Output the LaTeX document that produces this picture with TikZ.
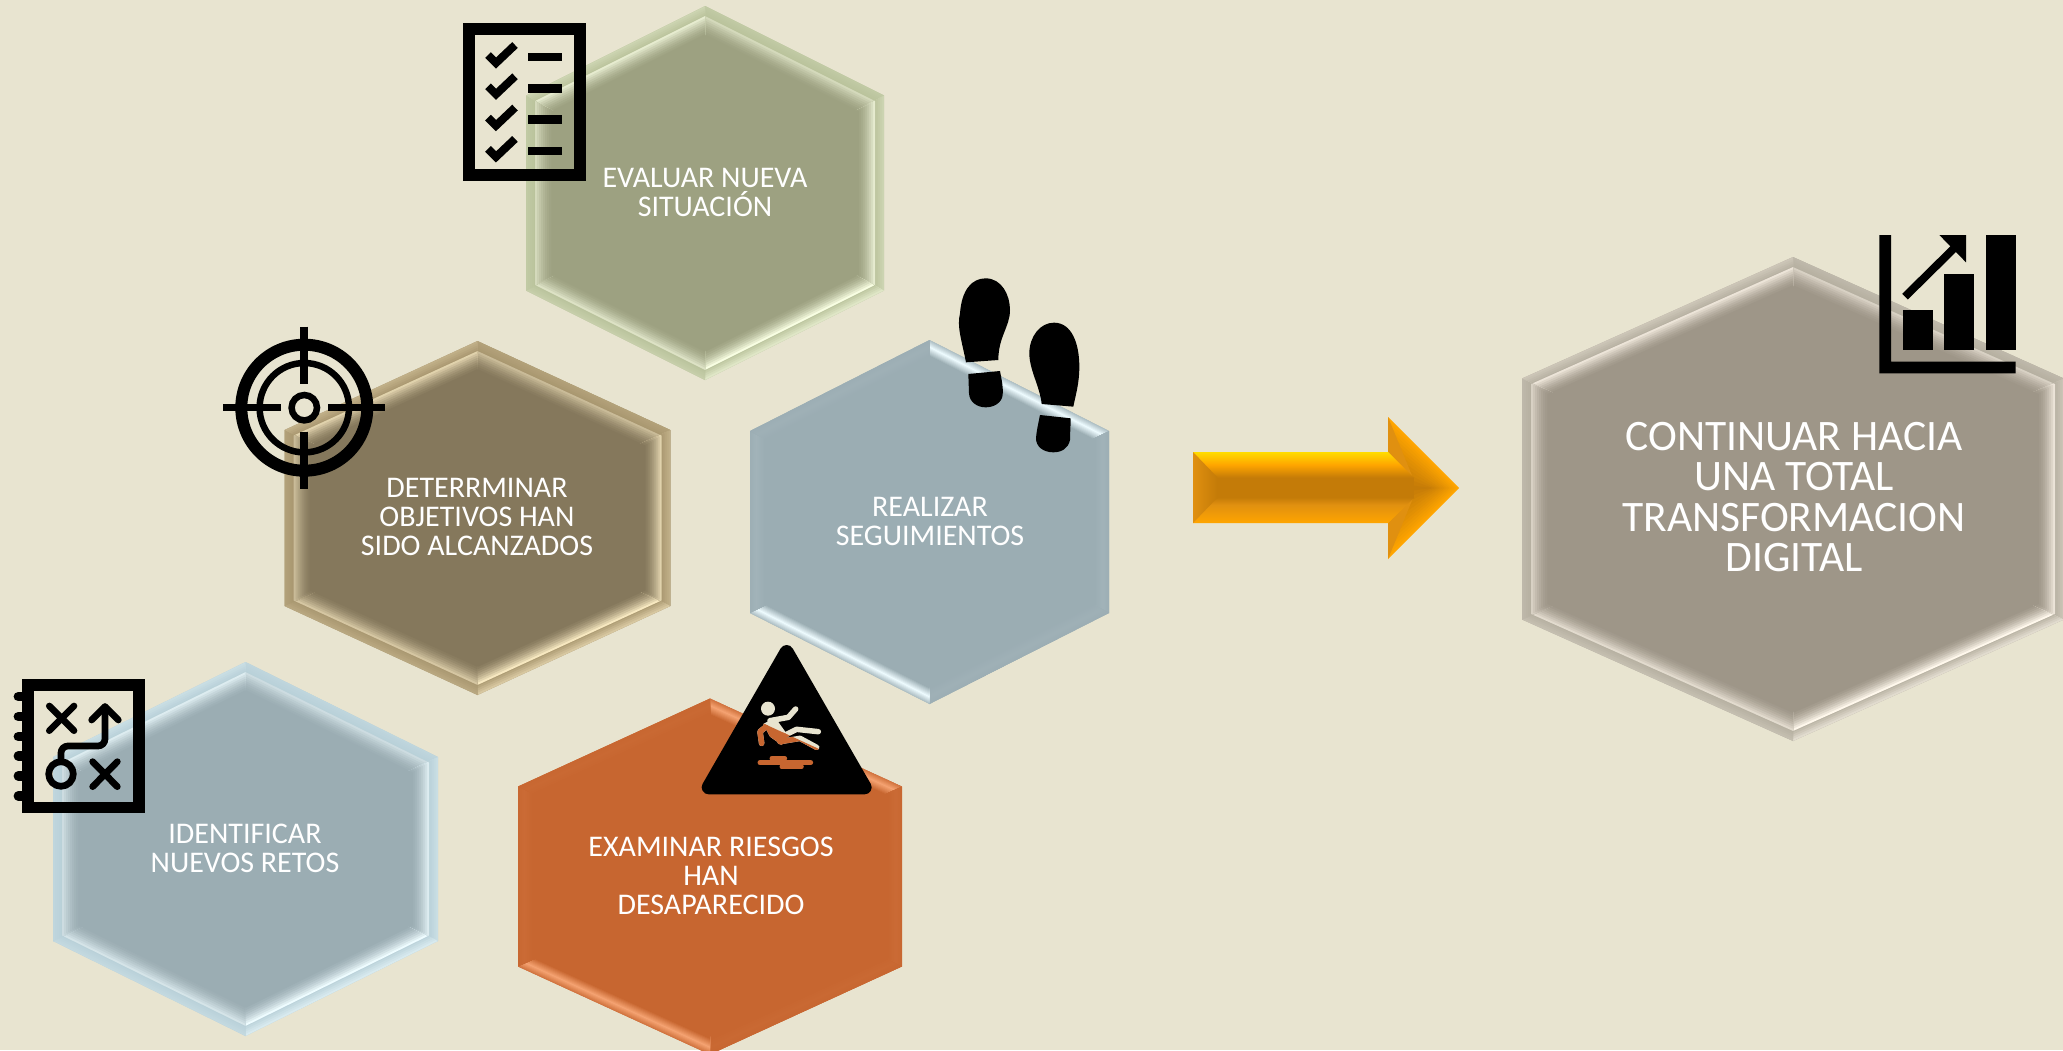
\documentclass[tikz,border=0pt]{standalone}
\usepackage{fontspec}
\setmainfont{Carlito}
\usetikzlibrary{arrows}

\definecolor{paper}{HTML}{E8E4D0}
\definecolor{oliveface}{HTML}{9DA181}
\definecolor{oliveband}{HTML}{B9C29B}
\definecolor{oliveglow}{HTML}{F8FEE2}
\definecolor{brownface}{HTML}{85785C}
\definecolor{brownband}{HTML}{A8966F}
\definecolor{brownglow}{HTML}{F7E8C0}
\definecolor{blueface}{HTML}{9BADB3}
\definecolor{blueband}{HTML}{B8D0D8}
\definecolor{blueglow}{HTML}{EEFCFF}
\definecolor{rustface}{HTML}{C76630}
\definecolor{rustglow}{HTML}{F5A372}
\definecolor{greyface}{HTML}{9E9688}
\definecolor{greyband}{HTML}{B5AFA0}
\definecolor{greyglow}{HTML}{FFF8EC}
\definecolor{amberdark}{HTML}{C47B08}
\definecolor{amber}{HTML}{FFA500}
\definecolor{amberside}{HTML}{E09010}
\definecolor{amberlight}{HTML}{FFDC00}

\pgfdeclareverticalshading{shaftshade}{100bp}{color(0bp)=(amber); color(25bp)=(amber); color(38bp)=(amberside); color(43bp)=(amberdark); color(57bp)=(amberdark); color(66bp)=(amber); color(75bp)=(amberlight); color(100bp)=(amberlight)}

\newcommand{\hexpts}[1]{(\hx,{\hy-\hh+1.118*#1}) -- ({\hx+\hw-#1},{\hy-\hs+.618*#1}) -- ({\hx+\hw-#1},{\hy+\hs-.618*#1}) -- (\hx,{\hy+\hh-1.118*#1}) -- ({\hx-\hw+#1},{\hy+\hs-.618*#1}) -- ({\hx-\hw+#1},{\hy-\hs+.618*#1}) -- cycle}

\newcommand{\hexcorners}[5]{
    \def\hx{#1}\def\hy{#2}\def\hw{#3}\def\hh{#4}\def\hs{#5}
    \coordinate (v1) at (\hx,{\hy-\hh});
    \coordinate (v2) at ({\hx+\hw},{\hy-\hs});
    \coordinate (v3) at ({\hx+\hw},{\hy+\hs});
    \coordinate (v4) at (\hx,{\hy+\hh});
    \coordinate (v5) at ({\hx-\hw},{\hy+\hs});
    \coordinate (v6) at ({\hx-\hw},{\hy-\hs});
}

% framed hexagon: x, y, half width, half height, shoulder, face, band, glow
\newcommand{\hexframed}[8]{
    \hexcorners{#1}{#2}{#3}{#4}{#5}
    \fill[#7] \hexpts{0};
    \foreach \a/\b/\k in {1/2/.6,2/3/.8,3/4/1,4/5/.7,5/6/.6,6/1/.8} {
        \begin{scope}
            \clip (\hx,\hy) -- (v\a) -- (v\b) -- cycle;
            \foreach \t in {0,2,...,8} {
                \pgfmathsetmacro\p{60*\k*\k*\k*(1-\t/9)}
                \fill[#8!\p!#7] \hexpts{\t};
            }
            \foreach \t in {9,11,...,25} {
                \pgfmathsetmacro\p{100*\k*((26-\t)/17)^1.6}
                \fill[#8!\p!#6] \hexpts{\t};
            }
        \end{scope}
    }
    \fill[#6] \hexpts{26};
}

% flat hexagon with a raised stripe: x, y, half width, half height, shoulder, face, glow
\newcommand{\hexflat}[7]{
    \hexcorners{#1}{#2}{#3}{#4}{#5}
    \fill[#6] \hexpts{0};
    \foreach \a/\b/\k in {1/2/1,2/3/.08,3/4/.05,4/5/1,5/6/.08,6/1/.05} {
        \begin{scope}
            \clip (\hx,\hy) -- (v\a) -- (v\b) -- cycle;
            \foreach \t in {0,1,...,15} {
                \pgfmathsetmacro\p{100*\k*max(0,1-abs(\t-6)/8)}
                \fill[#7!\p!#6] \hexpts{\t};
            }
        \end{scope}
    }
    \fill[#6] \hexpts{16};
}

\newcommand{\slipfigure}[1]{
    \begin{scope}[shift={(680,630)},x=.3333pt,y=-.3333pt,line cap=round,line join=round,#1]
        \fill (264,236) circle (7pt);
        \fill (250,282) -- (285,262) -- (325,318) -- (305,345) -- (270,320) -- cycle;
        \draw[line width=5.5pt] (270,272) -- (325,262) -- (347,237);
        \draw[line width=5.5pt] (258,290) -- (240,305) -- (245,340);
        \draw[line width=5.5pt] (310,318) -- (350,298) -- (415,305);
        \draw[line width=5.5pt] (300,335) -- (360,325) -- (410,352);
    \end{scope}
}

\tikzset{
    hextext/.style={text=white,align=center,font=\fontsize{30}{29}\selectfont},
    bigtext/.style={text=white,align=center,font=\fontsize{43.5}{40.5}\selectfont},
    inkline/.style={draw=black,line width=#1},
}

\begin{document}
\begin{tikzpicture}[x=1pt,y=-1pt]
    \useasboundingbox (0,0) rectangle (2063,1050);
    \fill[paper] (0,0) rectangle (2063,1050);

    \hexframed{705}{193}{179}{187}{97.5}{oliveface}{oliveband}{oliveglow}
    \hexframed{477.5}{518}{193}{177}{88}{brownface}{brownband}{brownglow}
    \hexframed{245.5}{849}{192.5}{187}{92}{blueface}{blueband}{blueglow}
    \hexframed{1793}{499}{271}{242}{120.5}{greyface}{greyband}{greyglow}
    \hexflat{929.5}{522}{179.5}{182}{91}{blueface}{blueglow}
    \hexflat{710}{876.5}{192}{178}{90}{rustface}{rustglow}

    \node[hextext] (evaluar) at (705,192) {EVALUAR NUEVA\\SITUACIÓN};
    \node[hextext] (objetivos) at (477,517) {DETERRMINAR\\OBJETIVOS HAN\\SIDO ALCANZADOS};
    \node[hextext] (seguimientos) at (930,521) {REALIZAR\\SEGUIMIENTOS};
    \node[hextext] (riesgos) at (711,876) {EXAMINAR RIESGOS\\HAN\\DESAPARECIDO};
    \node[hextext] (retos) at (245,848) {IDENTIFICAR\\NUEVOS RETOS};
    \node[bigtext] (digital) at (1794,497) {CONTINUAR HACIA\\UNA TOTAL\\TRANSFORMACION\\DIGITAL};

    % block arrow
    \foreach \t in {0,1,...,12} {
        \pgfmathsetmacro\p{100*(1-\t/12)}
        \fill[amber!\p!amberdark] ({1388+2*\t},{417+5.7*\t}) -- ({1459-2.4*\t},488) -- ({1388+2*\t},{559-5.7*\t}) -- cycle;
    }
    \fill[amberside] (1388,417) -- (1413,478) -- (1388,452) -- cycle;
    \fill[amberside] (1388,559) -- (1413,498) -- (1388,523) -- cycle;
    \shade[shading=shaftshade] (1193,452) -- (1388,452) -- (1414,478) -- (1414,498) -- (1388,523) -- (1193,523) -- cycle;
    \shade[left color=amberside,right color=amberdark] (1193,452) -- (1217,477) -- (1217,498) -- (1193,523) -- cycle;

    % checklist
    \draw[inkline=12pt] (469,29) rectangle (580,175);
    \foreach \i in {0,1,2,3} {
        \draw[inkline=8pt] (488,{55+31.3*\i}) -- (496,{63+31.3*\i}) -- (515,{45+31.3*\i});
        \draw[inkline=8.5pt] (528,{57+31.3*\i}) -- (562,{57+31.3*\i});
    }

    % target
    \draw[inkline=12pt] (304.3,407.7) circle (63pt);
    \draw[inkline=6.5pt] (304.3,407.7) circle (44.7pt);
    \draw[inkline=6.5pt] (304.3,407.7) circle (12.7pt);
    \draw[inkline=6.5pt] (223.3,407.7) -- (280.7,407.7);
    \draw[inkline=6.5pt] (328.3,407.7) -- (385.3,407.7);
    \draw[inkline=8pt] (304.3,326.7) -- (304.3,384);
    \draw[inkline=8pt] (304.3,431.7) -- (304.3,489);

    % steps
    \begin{scope}[shift={(940,250)},x=.3333pt,y=-.3333pt]
        \fill (78,337) .. controls (65,270) and (50,230) .. (60,190) .. controls (65,120) and (95,85) .. (137,85) .. controls (185,85) and (210,135) .. (210,180) .. controls (210,230) and (175,260) .. (175,330) -- cycle;
        \fill (85,372) -- (180,363) .. controls (185,390) and (190,410) .. (188,435) .. controls (185,460) and (160,472) .. (137,472) .. controls (110,472) and (88,455) .. (87,430) -- cycle;
        \fill (305,462) .. controls (300,410) and (268,360) .. (268,310) .. controls (268,260) and (300,218) .. (342,218) .. controls (395,218) and (418,280) .. (418,350) .. controls (418,400) and (408,430) .. (400,470) -- cycle;
        \fill (300,495) -- (392,505) .. controls (392,530) and (390,550) .. (390,570) .. controls (385,595) and (365,607) .. (340,607) .. controls (310,607) and (288,590) .. (288,565) .. controls (290,540) and (295,520) .. (300,495) -- cycle;
    \end{scope}

    % warning sign
    \begin{scope}[shift={(680,630)},x=.3333pt,y=-.3333pt]
        \draw[black,fill=black,line width=14pt,line join=round] (320,66) -- (86,472) -- (554,472) -- cycle;
        \draw[rustface,line width=5pt,line cap=round] (240,398) -- (392,398);
        \draw[rustface,line width=5pt,line cap=round] (276,385) -- (314,385);
        \draw[rustface,line width=5pt,line cap=round] (306,411) -- (364,411);
    \end{scope}
    \slipfigure{paper,draw=paper,fill=paper}
    \begin{scope}
        \clip (710,699) -- (902,787) -- (902,966) -- (710,1055) -- (518,966) -- (518,787) -- cycle;
        \slipfigure{rustface,draw=rustface,fill=rustface}
    \end{scope}

    % map
    \begin{scope}[shift={(0,660)},x=.3333pt,y=-.3333pt,line cap=round,line join=round]
        \draw[inkline=9.5pt] (55,110) -- (80,110);
        \draw[inkline=9.5pt] (55,170) -- (80,170);
        \draw[inkline=9.5pt] (55,230) -- (80,230);
        \draw[inkline=9.5pt] (55,288) -- (80,288);
        \draw[inkline=9.5pt] (55,348) -- (80,348);
        \draw[inkline=9.5pt] (55,408) -- (80,408);
        \draw[inkline=11.7pt,line join=miter] (83.5,75.5) rectangle (416.5,442.5);
        \draw[inkline=6.7pt] (148,138) -- (222,212);
        \draw[inkline=6.7pt] (148,212) -- (222,138);
        \draw[inkline=6.7pt] (278,305) -- (352,380);
        \draw[inkline=6.7pt] (278,380) -- (352,305);
        \draw[inkline=6.7pt] (183,342) circle (12.3pt);
        \draw[inkline=6.7pt,rounded corners=7pt] (183,305) -- (183,258) -- (315,258) -- (315,140);
        \draw[inkline=6.7pt] (275,180) -- (315,140) -- (355,180);
    \end{scope}

    % chart
    \begin{scope}[shift={(1840,210)},x=.3333pt,y=-.3333pt]
        \fill (118,75) -- (153,75) -- (153,455) -- (527,455) -- (527,490) -- (118,490) -- cycle;
        \fill (189,300) rectangle (279,420);
        \fill (312,192) rectangle (402,420);
        \fill (438,75) rectangle (528,420);
        \draw[inkline=8pt] (195,260) -- (345,112);
        \fill (298,75) -- (378,75) -- (378,157) -- cycle;
    \end{scope}
\end{tikzpicture}
\end{document}
